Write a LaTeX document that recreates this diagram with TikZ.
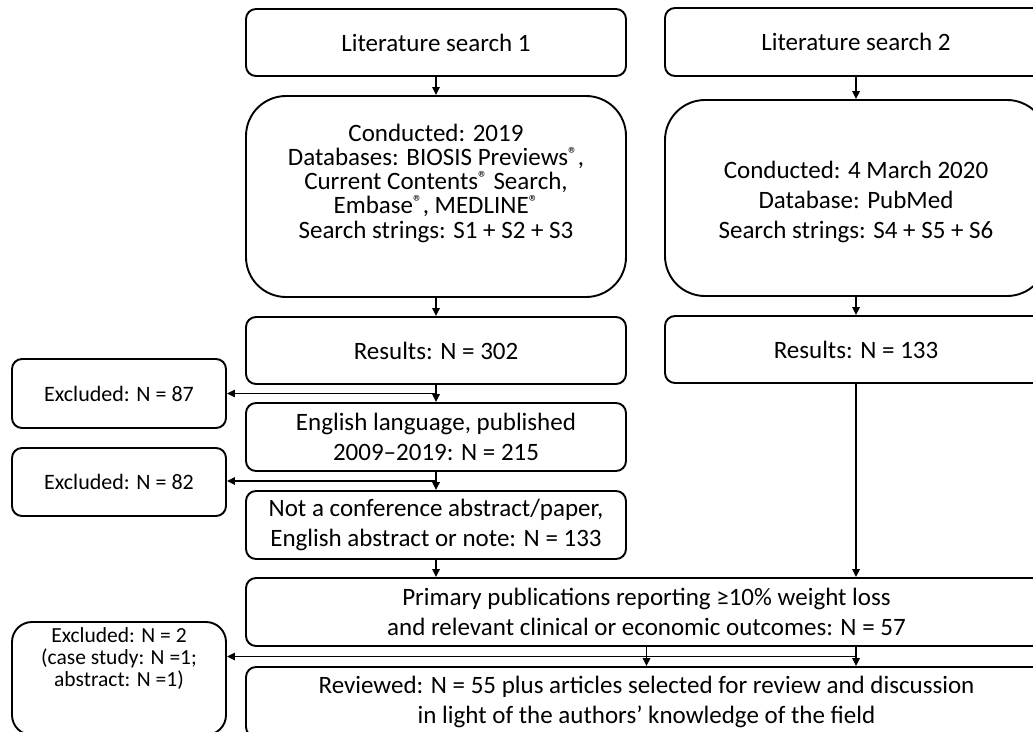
\documentclass[tikz,border=0pt]{standalone}
\usepackage{fontspec}
\setmainfont{Carlito}
\usetikzlibrary{arrows.meta,calc}
\newcommand\liftup[2]{\raisebox{0pt}[\height][\dimexpr\depth+#1\relax]{\begin{tabular}{@{}c@{}}#2\end{tabular}}}
\newcommand\dropdown[2]{\raisebox{0pt}[\dimexpr\height+#1\relax][\depth]{\begin{tabular}{@{}c@{}}#2\end{tabular}}}
\newcommand\reg{\smash{\raisebox{5pt}{\fontsize{19}{19}\selectfont ®}}}
\tikzset{
  box/.style={draw, line width=1.9pt, rounded corners=10pt, align=center, inner sep=0pt,
    font=\fontsize{25}{30}\selectfont},
  bigbox/.style={box, rounded corners=40pt},
  exbox/.style={box, font=\fontsize{22}{26}\selectfont},
  arr/.style={line width=1.5pt, -{Triangle[length=8pt,width=7.5pt]}},
}
\begin{document}
\begin{tikzpicture}[x=1pt,y=-1pt]
\useasboundingbox (0,0) rectangle (1033,731);
\clip (0,0) rectangle (1033,731);
% left column
\node[box, minimum width=380, minimum height=67] (ls1) at (436,42.5) {Literature search 1};
\node[bigbox, minimum width=380, minimum height=201, font=\fontsize{25}{23}\selectfont] (c1) at (436,196.5)
  {\liftup{24pt}{Conducted: 2019\\Databases: BIOSIS Previews\reg,\\Current Contents\reg{} Search,\\Embase\reg, MEDLINE\reg\\Search strings: S1 + S2 + S3}};
\node[box, minimum width=380, minimum height=67] (r1) at (436,350.5) {Results: N = 302};
\node[box, minimum width=380, minimum height=68] (eng) at (436,437) {English language, published\\2009–2019: N = 215};
\node[box, minimum width=380, minimum height=68] (nca) at (436,525) {Not a conference abstract/paper,\\English abstract or note: N = 133};
% right column
\node[box, minimum width=382, minimum height=68] (ls2) at (856,42) {Literature search 2};
\node[bigbox, minimum width=382, minimum height=196] (c2) at (856,198)
  {\dropdown{8pt}{Conducted: 4 March 2020\\Database: PubMed\\Search strings: S4 + S5 + S6}};
\node[box, minimum width=382, minimum height=67] (r2) at (856,349.5) {Results: N = 133};
% excluded
\node[exbox, minimum width=214, minimum height=69] (e87) at (119,393.5) {Excluded: N = 87};
\node[exbox, minimum width=214, minimum height=68] (e82) at (119,482) {Excluded: N = 82};
\node[box, rounded corners=20pt, minimum width=214, minimum height=113, font=\fontsize{21.5}{21.5}\selectfont] (e2) at (119,678.5)
  {\liftup{36pt}{Excluded: N = 2\\(case study: N =1;\\abstract: N =1)}};
% bottom
\node[box, minimum width=801, minimum height=68] (prim) at (646.5,612)
  {Primary publications reporting ≥10\% weight loss\\and relevant clinical or economic outcomes: N = 57};
\node[box, minimum width=801, minimum height=70] (rev) at (646.5,702)
  {Reviewed: N = 55 plus articles selected for review and discussion\\in light of the authors’ knowledge of the field};
% connectors
\draw[arr] (ls1.south) -- (c1.north);
\draw[arr] (c1.south) -- (r1.north);
\draw[arr] (r1.south) -- (eng.north);
\draw[arr] (eng.south) -- (nca.north);
\draw[arr] (nca.south) -- (nca.south |- prim.north);
\draw[arr] (ls2.south) -- (c2.north);
\draw[arr] (c2.south) -- (r2.north);
\draw[arr] (r2.south) -- (r2.south |- prim.north);
\coordinate (j1) at ($(r1.south)!0.5!(eng.north)$);
\coordinate (j2) at ($(eng.south)!0.5!(nca.north)$);
\draw[arr] (j1) -- (e87.east |- j1);
\draw[arr] (j2) -- (e82.east |- j2);
\draw[arr] (prim.south) -- (rev.north);
\draw[arr] (prim.south -| r2.south) -- (rev.north -| r2.south);
\coordinate (j3) at ($(prim.south -| r2.south)!0.5!(rev.north -| r2.south)$);
\draw[arr] (j3) -- (e2.east |- j3);
\end{tikzpicture}
\end{document}
